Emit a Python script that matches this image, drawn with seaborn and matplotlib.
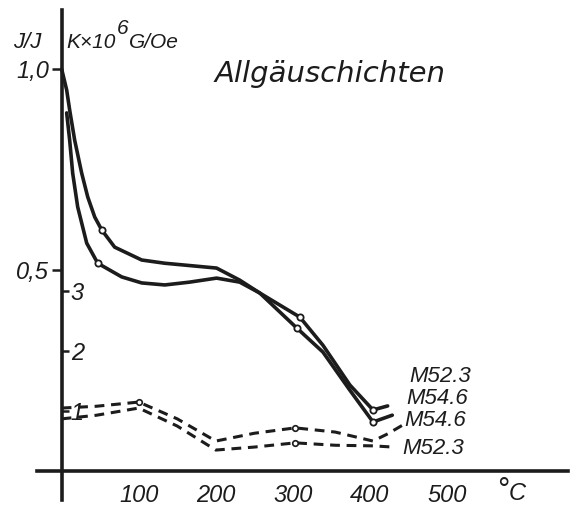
import matplotlib
matplotlib.use("Agg")
import matplotlib.pyplot as plt
import seaborn as sns

# ---- data ----
# Solid curves: J/J0 (thermomagnetic), dashed: susceptibility K x10^6 G/Oe
temp_a = [0, 6.5, 10.4, 16.9, 26, 33.8, 42.9, 51.9, 68.8, 103.9, 133.8, 201, 231, 257, 309, 339, 374, 404, 423]
jj_a = [1.00, 0.948, 0.898, 0.823, 0.741, 0.682, 0.632, 0.600, 0.557, 0.525, 0.517, 0.505, 0.475, 0.443, 0.383, 0.313, 0.214, 0.152, 0.162]

temp_b = [6.5, 10.4, 14.3, 20.8, 32.5, 46.8, 77.9, 103.9, 133.8, 166, 201, 231, 257, 305, 339, 374, 404, 429]
jj_b = [0.891, 0.823, 0.741, 0.657, 0.567, 0.517, 0.483, 0.468, 0.463, 0.470, 0.480, 0.470, 0.443, 0.356, 0.296, 0.201, 0.122, 0.139]

temp_k546 = [0, 45, 100, 150, 200, 250, 303, 355, 404, 423, 443]
k_546 = [1.05, 1.08, 1.15, 0.87, 0.50, 0.63, 0.72, 0.65, 0.50, 0.62, 0.77]

temp_k523 = [0, 45, 100, 150, 200, 250, 303, 355, 404, 430]
k_523 = [0.87, 0.93, 1.05, 0.75, 0.35, 0.40, 0.47, 0.43, 0.42, 0.40]

x_ticks = [100, 200, 300, 400, 500]
x_tick_labels = ["100", "200", "300", "400", "500"]
j_ticks = [0.5, 1.0]
j_tick_labels = ["0,5", "1,0"]
k_ticks = [1, 2, 3]
k_tick_labels = ["1", "2", "3"]

series_labels = ["M52.3", "M54.6", "M54.6", "M52.3"]
title = "Allgäuschichten"

# ---- style ----
sns.set_style("white")
FAM = ["Liberation Sans", "DejaVu Sans"]
plt.rcParams["font.family"] = FAM
plt.rcParams["font.style"] = "italic"
INK = "#1c1c1c"

W, H = 581, 509
fig = plt.figure(figsize=(W / 100, H / 100), dpi=100)
fig.patch.set_facecolor("white")
ax = fig.add_axes([37 / W, 9 / H, 531 / W, 490 / H])
ax.set_xlim(-32, 657)
ax.set_ylim(-0.072, 1.147)

# solid curves
sns.lineplot(x=temp_a, y=jj_a, ax=ax, sort=False, color=INK, lw=2.6,
             marker="o", markevery=[7, 14, 17], ms=4.5, mfc="white", mec=INK, mew=1.3)
sns.lineplot(x=temp_b, y=jj_b, ax=ax, sort=False, color=INK, lw=2.6,
             marker="o", markevery=[5, 13, 16], ms=4.5, mfc="white", mec=INK, mew=1.3)

# secondary scale for K
ax2 = ax.twinx()
ax2.set_ylim(-0.072 * 402 / 60, 1.147 * 402 / 60)
sns.lineplot(x=temp_k546, y=k_546, ax=ax2, sort=False, color=INK, lw=2.2,
             linestyle=(0, (3.2, 2.2)),
             marker="o", markevery=[2, 6], ms=4, mfc="white", mec=INK, mew=1.2)
sns.lineplot(x=temp_k523, y=k_523, ax=ax2, sort=False, color=INK, lw=2.2,
             linestyle=(0, (3.2, 2.2)),
             marker="o", markevery=[6], ms=4, mfc="white", mec=INK, mew=1.2)

# axes as a cross
for s in ["top", "right"]:
    ax.spines[s].set_visible(False)
ax.spines["left"].set_position(("data", 0))
ax.spines["bottom"].set_position(("data", 0))
for s in ["left", "bottom"]:
    ax.spines[s].set_linewidth(2.6)
    ax.spines[s].set_color(INK)
for s in ["top", "right", "bottom"]:
    ax2.spines[s].set_visible(False)
ax2.spines["left"].set_position(("data", 0))
ax2.spines["left"].set_color("none")

ax.set_xticks(x_ticks)
ax.set_xticklabels(x_tick_labels)
ax.tick_params(axis="x", direction="out", length=5, width=2, color=INK,
               pad=4, labelsize=17, labelcolor=INK)
ax.set_yticks(j_ticks)
ax.set_yticklabels(j_tick_labels)
ax.tick_params(axis="y", direction="out", length=7, width=1.8, color=INK,
               pad=2, labelsize=17, labelcolor=INK)

ax2.yaxis.set_ticks_position("left")
ax2.set_yticks(k_ticks)
ax2.set_yticklabels(k_tick_labels)
ax2.tick_params(axis="y", direction="in", length=5, width=1.8, color=INK,
                pad=-16, labelsize=17, labelcolor=INK)
ax2.tick_params(axis="y", right=False, labelright=False)
ax.grid(False)
ax2.grid(False)

# headers and labels (figure pixel positions)
def fx(px):
    return px / W

def fy(py):
    return 1 - py / H

fig.text(fx(13), fy(43), "J/J", fontsize=16, color=INK, ha="left", va="center")
fig.text(fx(66), fy(43), "K×10", fontsize=15, color=INK, ha="left", va="center")
fig.text(fx(117), fy(28), "6", fontsize=15, color=INK, ha="left", va="center")
fig.text(fx(129), fy(43), "G/Oe", fontsize=15, color=INK, ha="left", va="center")
fig.text(fx(330), fy(74), title, fontsize=21, color=INK, ha="center", va="center",
         family=["DejaVu Sans"], style="oblique")
fig.text(fx(496), fy(491), "°", fontsize=22, color=INK, ha="left", va="center")
fig.text(fx(509), fy(494), "C", fontsize=17, color=INK, ha="left", va="center")

label_pos = [(409, 377), (406, 398), (404, 420), (402, 449)]
for lab, (px, py) in zip(series_labels, label_pos):
    fig.text(fx(px), fy(py), lab, fontsize=16, color=INK, ha="left", va="center")

fig.savefig("out.png", dpi=100, facecolor="white")
